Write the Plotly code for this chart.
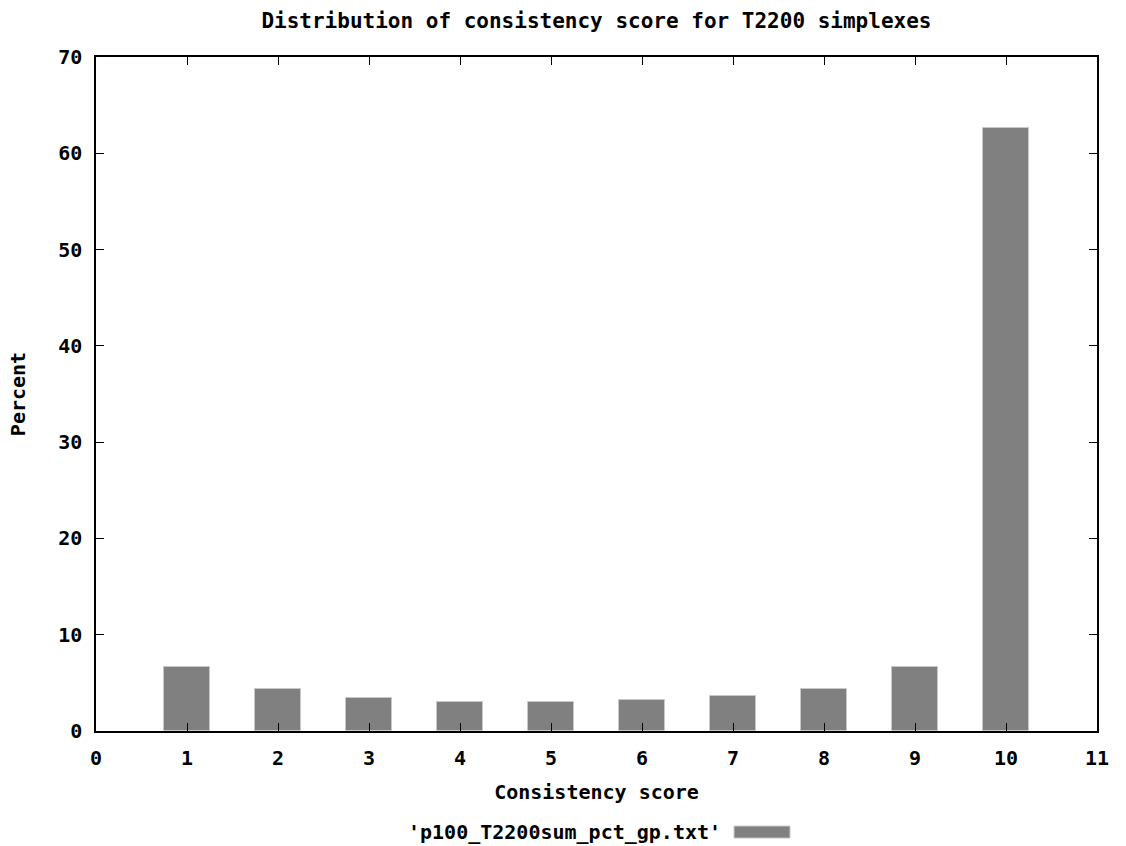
import plotly.graph_objects as go

# Consistency score distribution (percent of simplexes per score)
scores = [1, 2, 3, 4, 5, 6, 7, 8, 9, 10]
percent = [6.6, 4.35, 3.45, 3.05, 3.05, 3.25, 3.6, 4.35, 6.6, 62.6]
x_ticks = list(range(0, 12))
y_ticks = list(range(0, 80, 10))
series_name = "'p100_T2200sum_pct_gp.txt'"

FONT = dict(family="DejaVu Sans Mono", size=20, color="black")
TITLE_FONT = dict(family="DejaVu Sans Mono", size=21, color="black")
BAR_COLOR = "#808080"

fig = go.Figure()
fig.add_trace(go.Bar(
    x=scores, y=percent, width=0.5,
    marker=dict(color=BAR_COLOR, line=dict(color="#c8c8c8", width=1)),
    name=series_name, showlegend=False,
))

axis_common = dict(
    showline=True, linecolor="black", linewidth=1.5, mirror="allticks",
    ticks="inside", ticklen=8, tickwidth=1.2, tickcolor="black",
    showgrid=False, zeroline=False, tickfont=FONT,
)

fig.update_layout(
    width=1126, height=846,
    margin=dict(l=96, r=29, t=57, b=115),
    plot_bgcolor="white", paper_bgcolor="white",
    font=FONT,
    title=dict(text="<b>Distribution of consistency score for T2200 simplexes</b>",
               x=0.5297, xanchor="center", y=0.976, yanchor="middle", font=TITLE_FONT),
    xaxis=dict(range=[0, 11], tickvals=x_ticks,
               ticktext=[f"<b>{v}</b>" for v in x_ticks],
               ticklabelstandoff=8,
               title=dict(text="<b>Consistency score</b>", font=FONT, standoff=16),
               **axis_common),
    yaxis=dict(range=[0, 70], tickvals=y_ticks,
               ticktext=[f"<b>{v}</b>" for v in y_ticks],
               ticklabelstandoff=8,
               title=dict(text="<b>Percent</b>", font=FONT, standoff=27),
               **axis_common),
    bargap=0,
)

# Key below the plot: label followed by a swatch of the bar fill
fig.add_annotation(
    text=f"<b>{series_name}</b>", xref="paper", yref="paper",
    x=0.6264, y=-0.1499, xanchor="right", yanchor="middle",
    showarrow=False, font=FONT,
)
fig.add_shape(
    type="rect", xref="paper", yref="paper",
    x0=0.6374, x1=0.6933, y0=-0.1410, y1=-0.1588,
    fillcolor=BAR_COLOR, line=dict(color="#c8c8c8", width=1),
)

fig.write_html("out.html")
